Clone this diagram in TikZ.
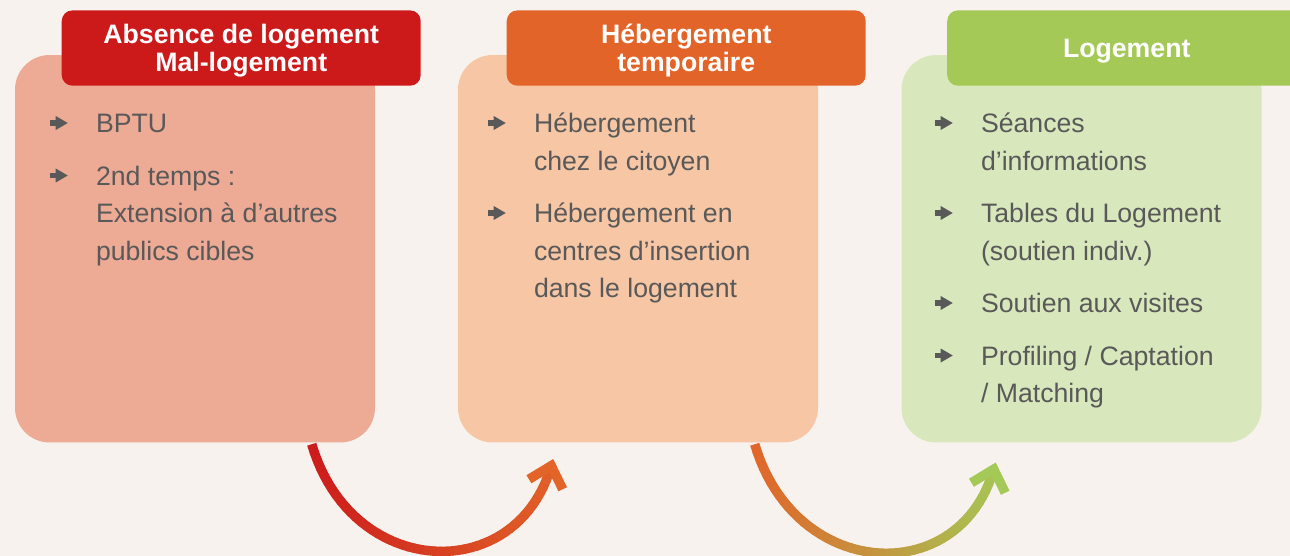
\documentclass[tikz,border=0pt]{standalone}
\usepackage{fontspec}
\setmainfont{Liberation Sans}
\usetikzlibrary{calc}

\definecolor{bg}{HTML}{F7F2EE}
\definecolor{txt}{HTML}{595959}
\definecolor{redH}{HTML}{CC1A1B}
\definecolor{redL}{HTML}{EDAA94}
\definecolor{orgH}{HTML}{E26428}
\definecolor{orgL}{HTML}{F7C6A4}
\definecolor{grnH}{HTML}{A4C957}
\definecolor{grnL}{HTML}{D9E8BC}

% left-aligned lines whose baseline is the first line
\newcommand\stack[1]{\vtop{\halign{##\hfil\cr#1\crcr}}}

% thick curved connector with a horizontal colour gradient and an open barb
% #1 start, #2 first control, #3 second control, #4 barb vertex, #5 left colour, #6 right colour
\newcommand\gradarc[6]{%
  \foreach \k in {0,...,48}{\path (#1) .. controls (#2) and (#3) .. (#4) coordinate[pos=\k/48] (q\k);}
  \path ($(#1)+(-5,0)$); \pgfgetlastxy{\gxa}{\gya}
  \path ($(#4)+(15,0)$); \pgfgetlastxy{\gxb}{\gyb}
  \foreach \k [evaluate=\k as \kn using int(\k+1)] in {0,...,47}{
    \path ($(q\k)!0.5!(q\kn)$); \pgfgetlastxy{\gx}{\gy}
    \pgfmathtruncatemacro\gp{max(0,min(100,(\gx-\gxa)/(\gxb-\gxa)*100))}
    \colorlet{gc}{#6!\gp!#5}
    \ifnum\k=0
      \draw[line width=7.1pt, gc, line cap=butt] (q\k) -- (q\kn);
    \else
      \draw[line width=7.1pt, gc, line cap=round] (q\k) -- (q\kn);
    \fi
  }
  \draw[line width=7.1pt, #6, line join=miter, line cap=butt]
    ($(#4)+(-22.3,13.5)$) -- (#4) -- ($(#4)+(11.5,23.5)$);
}

\begin{document}
\begin{tikzpicture}[x=0.75pt, y=-0.75pt,
  panel/.style={draw=none, rounded corners=26pt, minimum width=270pt,
    minimum height=290.6pt, inner sep=0pt},
  head/.style={rounded corners=8pt, minimum width=269.25pt, minimum height=56.5pt,
    text=white, font=\bfseries\fontsize{20}{21.25}\selectfont, align=center,
    text depth=0pt, inner sep=0pt},
  item/.style={anchor=base west, text=txt, inner sep=0pt,
    font=\fontsize{20}{28.125}\selectfont},
  bul/.pic={\fill[txt] (0,-2.6) rectangle (8,2.6);
            \fill[txt] (6,-7) -- (18,0) -- (6,7) -- cycle;}
]
\fill[bg] (0,0) rectangle (1290,556);
\path[use as bounding box] (0,0) rectangle (1290,556);
\begin{scope}
\clip (0,0) rectangle (1290,556);

% panels
\node[panel, fill=redL] (b1) at (195,248.75) {};
\node[panel, fill=orgL] (b2) at (638,248.75) {};
\node[panel, fill=grnL] (b3) at (1081.5,248.75) {};

% headers
\node[head, fill=redH] (h1) at ($(b1.north west)+(226.5,-6.7)$) {Absence de logement\\Mal-logement};
\node[head, fill=orgH] (h2) at ($(b2.north west)+(228.5,-6.7)$) {Hébergement\\temporaire};
\node[head, fill=grnH] (h3) at ($(b3.north west)+(225.5,-6.7)$) {Logement};

% items of the first panel
\node[item] (t11) at ($(b1.west |- 0,133)+(81,0)$) {BPTU};
\node[item] (t12) at ($(b1.west |- 0,185.5)+(81,0)$) {\stack{2nd temps :\cr Extension à d’autres\cr publics cibles}};

% items of the second panel
\node[item] (t21) at ($(b2.west |- 0,133)+(76,0)$) {\stack{Hébergement\cr chez le citoyen}};
\node[item] (t22) at ($(b2.west |- 0,223)+(76,0)$) {\stack{Hébergement en\cr centres d’insertion\cr dans le logement}};

% items of the third panel
\node[item] (t31) at ($(b3.west |- 0,133)+(79.5,0)$) {\stack{Séances\cr d’informations}};
\node[item] (t32) at ($(b3.west |- 0,223)+(79.5,0)$) {\stack{Tables du Logement\cr (soutien indiv.)}};
\node[item] (t33) at ($(b3.west |- 0,313)+(79.5,0)$) {Soutien aux visites};
\node[item] (t34) at ($(b3.west |- 0,365.5)+(79.5,0)$) {\stack{Profiling / Captation\cr / Matching}};

% bullets
\foreach \t in {t11,t12,t21,t22,t31,t32,t33,t34}
  \pic at ($(\t.base west)+(-46,-10)$) {bul};

% connectors between panels
\coordinate (s1) at ($(b1.south west)+(297,1.5)$);
\coordinate (v1) at ($(b2.south west)+(93.5,23)$);
\coordinate (s2) at ($(b2.south west)+(297,1.5)$);
\coordinate (v2) at ($(b3.south west)+(92.5,26.5)$);
\coordinate (c11) at ($(s1)+(40,136)$);
\coordinate (c12) at ($(v1)+(-34.3,120.3)$);
\coordinate (c21) at ($(s2)+(40,136)$);
\coordinate (c22) at ($(v2)+(-34.3,120.3)$);
\gradarc{s1}{c11}{c12}{v1}{redH}{orgH}
\gradarc{s2}{c21}{c22}{v2}{orgH}{grnH}
\end{scope}
\end{tikzpicture}
\end{document}
